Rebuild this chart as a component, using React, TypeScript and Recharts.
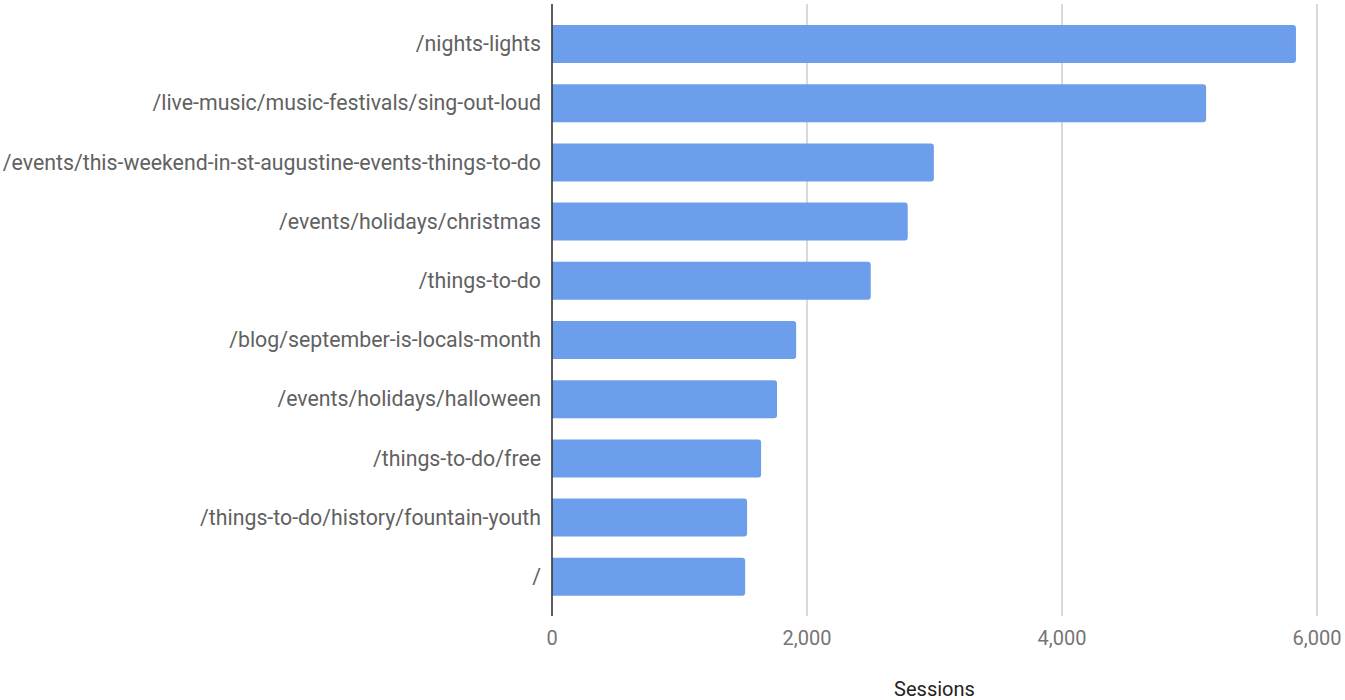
import { BarChart, Bar, XAxis, YAxis, CartesianGrid } from 'recharts';

const PAGES = [
  '/nights-lights',
  '/live-music/music-festivals/sing-out-loud',
  '/events/this-weekend-in-st-augustine-events-things-to-do',
  '/events/holidays/christmas',
  '/things-to-do',
  '/blog/september-is-locals-month',
  '/events/holidays/halloween',
  '/things-to-do/free',
  '/things-to-do/history/fountain-youth',
  '/',
];
const SESSIONS = [5835, 5130, 2995, 2790, 2500, 1915, 1765, 1640, 1530, 1515];
const X_TICKS = [0, 2000, 4000, 6000];

const data = PAGES.map((page, i) => ({ page, sessions: SESSIONS[i] }));

const FONT = 'Roboto, "Noto Sans", sans-serif';

const App = () => {
  return (
    <div style={{ position: 'absolute', left: 0, top: 0, background: '#fff' }}>
      <BarChart
        width={1345}
        height={700}
        data={data}
        layout="vertical"
        margin={{ top: 4, right: 28, bottom: 0, left: 0 }}
      >
        <CartesianGrid horizontal={false} stroke="#cccccc" strokeWidth={1.5} />
        <XAxis
          type="number"
          domain={[0, 6000]}
          ticks={X_TICKS}
          tickFormatter={(v: number) => v.toLocaleString('en-US')}
          axisLine={false}
          tickLine={false}
          tickSize={0}
          tickMargin={15}
          height={84}
          tick={{ fill: '#757575', fontSize: 20, fontFamily: FONT }}
          label={{ value: 'Sessions', position: 'insideBottom', offset: 4, fill: '#222', fontSize: 20, fontFamily: FONT }}
        />
        <YAxis
          type="category"
          dataKey="page"
          width={552}
          padding={{ top: 10, bottom: 10 }}
          axisLine={{ stroke: '#333', strokeWidth: 1.5 }}
          tickLine={false}
          tickSize={0}
          tickMargin={11}
          tick={{ fill: '#616161', fontSize: 21.3, fontFamily: FONT }}
        />
        <Bar dataKey="sessions" fill="#6d9eeb" barSize={38} radius={[0, 3, 3, 0]} isAnimationActive={false} />
      </BarChart>
    </div>
  );
};

export default App;
